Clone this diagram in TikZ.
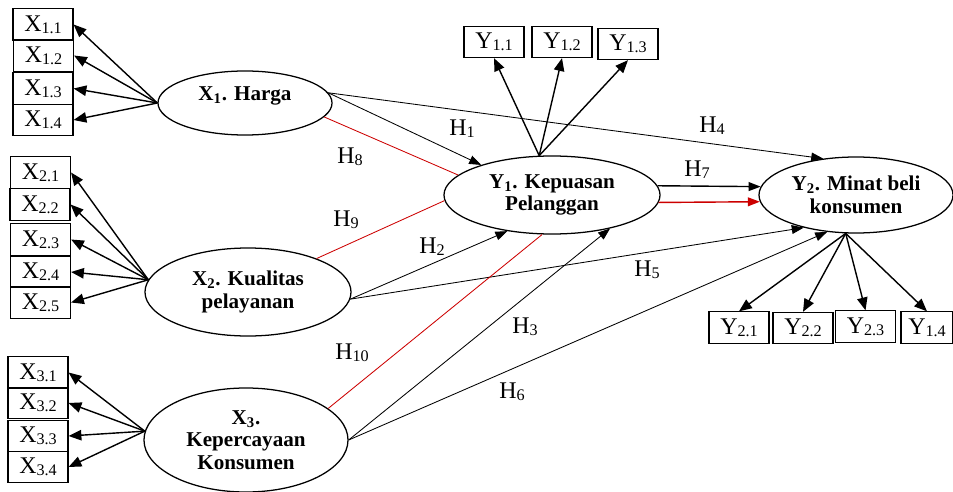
\documentclass[tikz,border=0pt]{standalone}
\usepackage{fontspec}
\setmainfont{Liberation Serif}
\usepackage{tikz}
\usetikzlibrary{arrows.meta}
\usetikzlibrary{shapes.geometric}

\newcommand{\ind}[2]{#1\raisebox{-0.2ex}{\fontsize{11.5}{11.5}\selectfont #2}}

\tikzset{
  latent/.style={draw, ellipse, line width=0.9pt, inner sep=0pt, align=center,
    font=\fontsize{15}{16}\selectfont\bfseries},
  indbox/.style={draw, rectangle, line width=0.8pt, minimum width=1.5cm,
    minimum height=0.78cm, inner sep=0pt, font=\fontsize{17}{18}\selectfont},
  loading/.style={-{Triangle[length=3.2mm,width=2.6mm]}, line width=1pt},
  struct/.style={-{Triangle[length=3mm,width=2.2mm]}, line width=0.6pt},
  moder/.style={draw=red!80!black, line width=0.6pt},
  hyp/.style={font=\fontsize{17}{18}\selectfont}
}

\begin{document}
\begin{tikzpicture}[x=0.025cm, y=-0.025cm]
        \useasboundingbox (0, 0) rectangle (953, 492);

        % latent variables
        \node[latent, minimum width=4.35cm, minimum height=1.6cm] (X1) at (245, 103)
          {\raisebox{13pt}{X\textsubscript{1}. Harga}};
        \node[latent, minimum width=5.15cm, minimum height=2.2cm] (X2) at (248, 292)
          {X\textsubscript{2}. Kualitas\\ pelayanan};
        \node[latent, minimum width=5.1cm, minimum height=2.6cm] (X3) at (246, 440)
          {X\textsubscript{3}.\\ Kepercayaan\\ Konsumen};
        \node[latent, minimum width=5.4cm, minimum height=1.95cm] (Y1) at (552, 195)
          {Y\textsubscript{1}. Kepuasan\\ Pelanggan};
        \node[latent, minimum width=4.85cm, minimum height=1.9cm] (Y2) at (856, 195)
          {Y\textsubscript{2}. Minat beli\\ konsumen};

        % indicators
        \node[indbox] (x11) at (43, 24.5) {\ind{X}{1.1}};
        \node[indbox] (x12) at (43.5, 55.5) {\ind{X}{1.2}};
        \node[indbox] (x13) at (43, 88.5) {\ind{X}{1.3}};
        \node[indbox] (x14) at (43, 120) {\ind{X}{1.4}};

        \node[indbox] (x21) at (40.5, 172.5) {\ind{X}{2.1}};
        \node[indbox] (x22) at (40, 204.5) {\ind{X}{2.2}};
        \node[indbox] (x23) at (40.5, 239.5) {\ind{X}{2.3}};
        \node[indbox] (x24) at (40.5, 272) {\ind{X}{2.4}};
        \node[indbox] (x25) at (40.5, 302.5) {\ind{X}{2.5}};

        \node[indbox] (x31) at (38, 372.5) {\ind{X}{3.1}};
        \node[indbox] (x32) at (38, 403) {\ind{X}{3.2}};
        \node[indbox] (x33) at (38, 436) {\ind{X}{3.3}};
        \node[indbox] (x34) at (38, 467) {\ind{X}{3.4}};

        \node[indbox] (y11) at (494, 42) {\ind{Y}{1.1}};
        \node[indbox] (y12) at (562, 42) {\ind{Y}{1.2}};
        \node[indbox] (y13) at (628, 44) {\ind{Y}{1.3}};

        \node[indbox] (y21) at (739, 327.5) {\ind{Y}{2.1}};
        \node[indbox] (y22) at (803, 328) {\ind{Y}{2.2}};
        \node[indbox] (y23) at (865.5, 326.5) {\ind{Y}{2.3}};
        \node[indbox, minimum width=1.3cm] (y14) at (927, 327.5) {\ind{Y}{1.4}};

        % loadings
        \draw[loading] (X1.west) -- (x11.east);
        \draw[loading] (X1.west) -- (x12.east);
        \draw[loading] (X1.west) -- (x13.east);
        \draw[loading] (X1.west) -- (x14.east);

        \draw[loading] (X2.173) -- (x21.east);
        \draw[loading] (X2.173) -- (x22.east);
        \draw[loading] (X2.173) -- (x23.east);
        \draw[loading] (X2.173) -- (x24.east);
        \draw[loading] (X2.173) -- (x25.east);

        \draw[loading] (X3.175) -- (x31.east);
        \draw[loading] (X3.175) -- (x32.east);
        \draw[loading] (X3.175) -- (x33.east);
        \draw[loading] (X3.175) -- (x34.east);

        \draw[loading] (Y1.108) -- (y11.south);
        \draw[loading] (Y1.108) -- (y12.south);
        \draw[loading] (Y1.108) -- (y13.south);

        \draw[loading] (Y2.255) -- (y21.north);
        \draw[loading] (Y2.255) -- (y22.north);
        \draw[loading] (Y2.255) -- (y23.north);
        \draw[loading] (Y2.255) -- (y14.north);

        % structural paths
        \draw[struct] (X1.7) -- (Y1.157);
        \draw[struct] (X1.7) -- (Y2.132);
        \draw[struct] (X2.-4) -- (Y1.219);
        \draw[struct] (X2.-4) -- (Y2.212);
        \draw[struct] (X3.east) -- (Y1.-30);
        \draw[struct] (X3.east) -- (Y2.232);
        \draw[struct, line width=1pt] (Y1.5) -- (Y2.175);
        \draw[struct, line width=1pt, red!80!black] (Y1.-4) -- (Y2.184);

        % moderation
        \draw[moder] (X1.-10) -- (Y1.168);
        \draw[moder] (X2.26) -- (Y1.183);
        \draw[moder] (X3.21) -- (Y1.256);

        % hypothesis labels
        \node[hyp] (h1) at (462, 129) {\ind{H}{1}};
        \node[hyp] (h2) at (432, 247) {\ind{H}{2}};
        \node[hyp] (h3) at (525, 327) {\ind{H}{3}};
        \node[hyp] (h4) at (712, 126) {\ind{H}{4}};
        \node[hyp] (h5) at (647, 270) {\ind{H}{5}};
        \node[hyp] (h6) at (512, 392) {\ind{H}{6}};
        \node[hyp] (h7) at (697, 170) {\ind{H}{7}};
        \node[hyp] (h8) at (350, 157) {\ind{H}{8}};
        \node[hyp] (h9) at (346, 220) {\ind{H}{9}};
        \node[hyp] (h10) at (352, 353) {\ind{H}{10}};
      \end{tikzpicture}
\end{document}
